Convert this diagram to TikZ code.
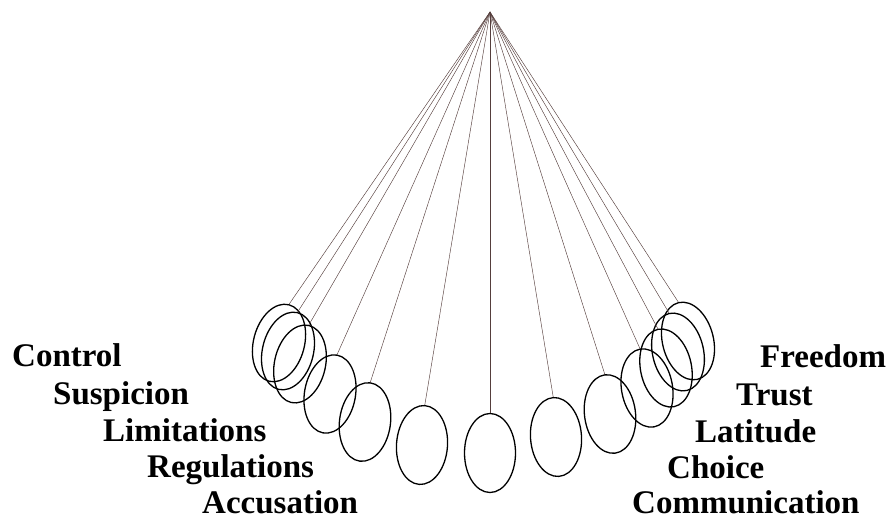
\documentclass[tikz,border=0pt]{standalone}
\usepackage{fontspec}
\setmainfont{Liberation Serif}
\usepackage{tikz}
\usetikzlibrary{shapes.geometric, positioning}
\definecolor{wirebrown}{RGB}{85,62,60}

\begin{document}
\begin{tikzpicture}[x=1pt, y=-1pt,
    bob/.style={draw, ellipse, line width=1.3pt, minimum width=51pt, minimum height=79pt, inner sep=0pt},
    wire/.style={draw=wirebrown, line width=0.45pt},
    word/.style={anchor=base west, inner sep=0pt, font=\fontsize{33}{36}\selectfont\bfseries}]
    \useasboundingbox (0,0) rectangle (894,519);

    % Pivot of the cradle
    \coordinate (top) at (490,12);

    % Left swing
    \node[bob, rotate=-14.6] (bobL1) at (279,343) {};
    \node[bob, rotate=-13.9] (bobL2) at (288,351) {};
    \node[bob, rotate=-12.8] (bobL3) at (300,364) {};
    \node[bob, rotate=-10.2] (bobL4) at (330,394) {};
    \node[bob, rotate=-7.6]  (bobL5) at (365,422) {};
    \node[bob, rotate=-4.0]  (bobL6) at (422,445) {};
    \node[bob]               (bobC)  at (490,453) {};
    % Right swing
    \node[bob, rotate=4.0]   (bobR6) at (556,437) {};
    \node[bob, rotate=7.5]   (bobR5) at (610,414) {};
    \node[bob, rotate=10.2]  (bobR4) at (647,388) {};
    \node[bob, rotate=11.8]  (bobR3) at (666,368) {};
    \node[bob, rotate=13.0]  (bobR2) at (678,352) {};
    \node[bob, rotate=14.0]  (bobR1) at (688,341) {};

    % Strings
    \foreach \b in {bobL1,bobL2,bobL3,bobL4,bobL5,bobL6,bobC,bobR6,bobR5,bobR4,bobR3,bobR2,bobR1}
        \draw[wire] (top) -- (\b.north);

    % Left words
    \node[word] (control) at (12,366) {Control};
    \node[word] (suspicion) at (53,404) {Suspicion};
    \node[word] (limitations) at (103,441) {Limitations};
    \node[word] (regulations) at (147,477) {Regulations};
    \node[word] (accusation) at (202,513) {Accusation};

    % Right words
    \node[word] (freedom) at (760,367) {Freedom};
    \node[word] (trust) at (736,405) {Trust};
    \node[word] (latitude) at (695,442) {Latitude};
    \node[word] (choice) at (667,478) {Choice};
    \node[word] (communication) at (632,513) {Communication};
\end{tikzpicture}
\end{document}
